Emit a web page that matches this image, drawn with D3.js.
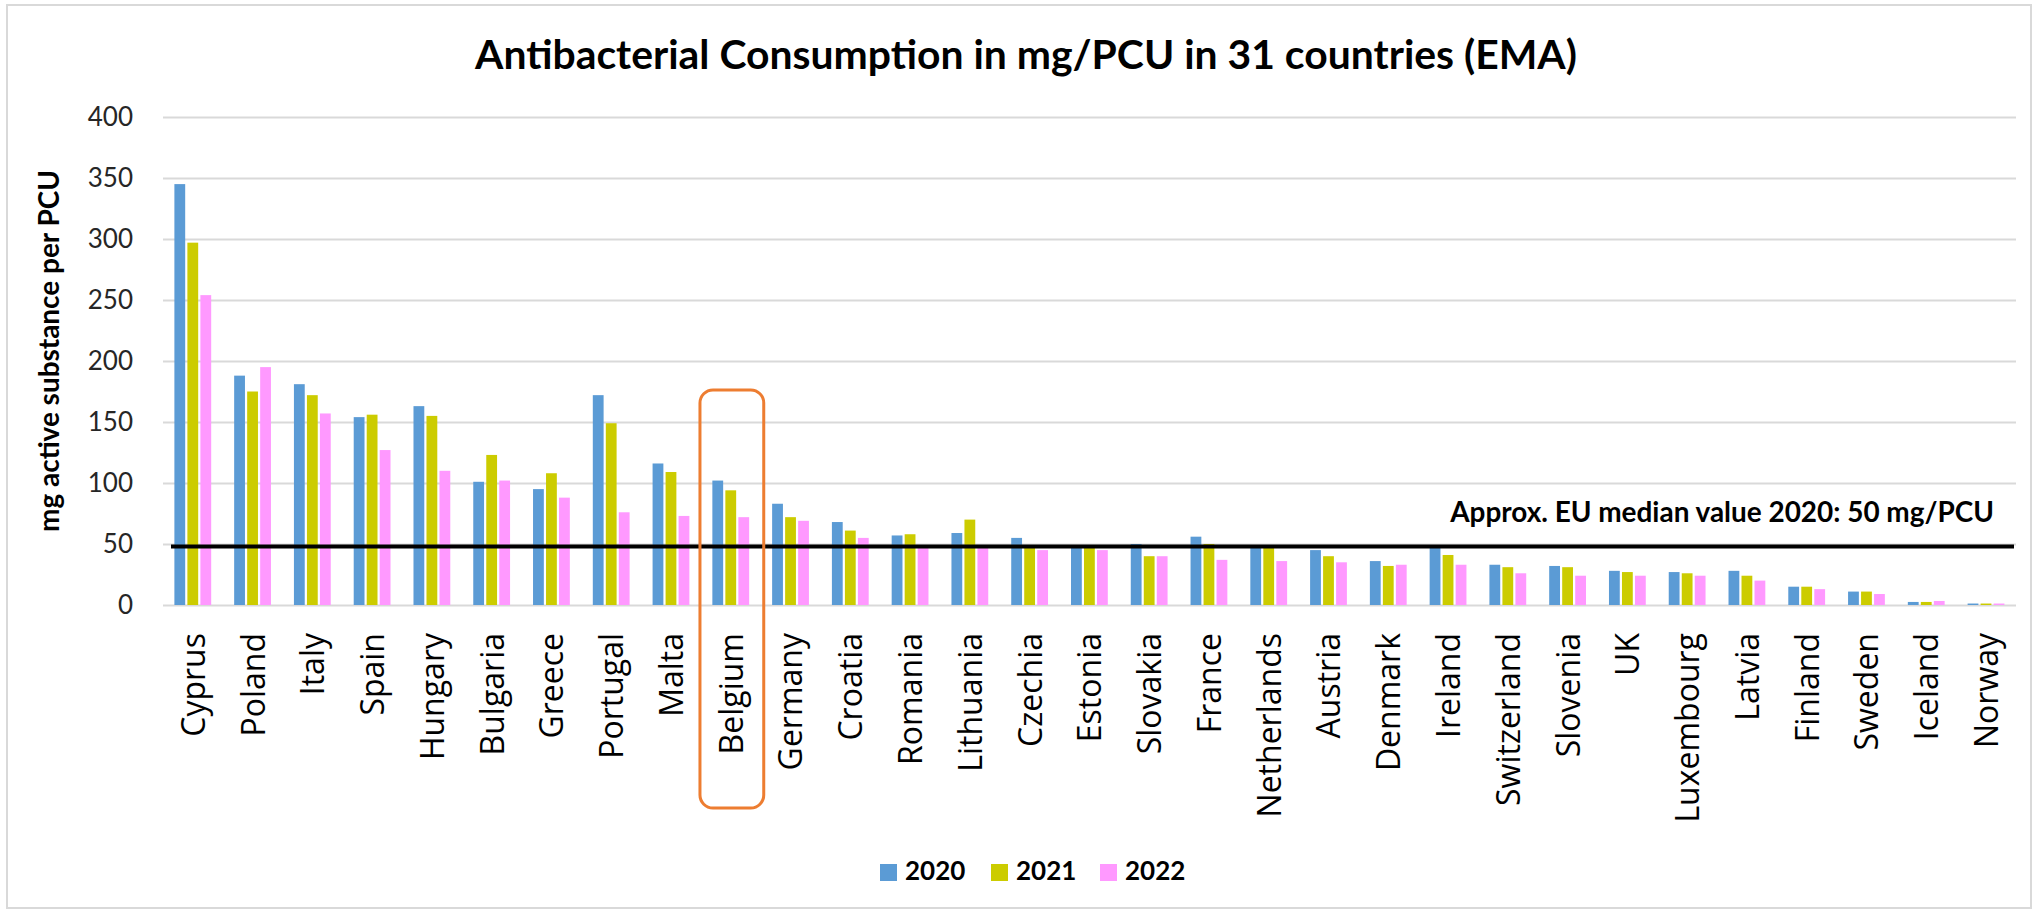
<!DOCTYPE html>
<html>
<head>
<meta charset="utf-8">
<script src="https://cdn.jsdelivr.net/npm/d3@7"></script>
<style>
  html, body { margin: 0; padding: 0; background: #fff; }
  svg { display: block; }
</style>
</head>
<body>
<svg id="chart" width="2038" height="914"></svg>
<script>
// ---------- data ----------
const countries = ["Cyprus","Poland","Italy","Spain","Hungary","Bulgaria","Greece","Portugal","Malta","Belgium",
  "Germany","Croatia","Romania","Lithuania","Czechia","Estonia","Slovakia","France","Netherlands","Austria",
  "Denmark","Ireland","Switzerland","Slovenia","UK","Luxembourg","Latvia","Finland","Sweden","Iceland","Norway"];
const v2020 = [345,188,181,154,163,101,95,172,116,102, 83,68,57,59,55,48,50,56,48,45, 36,47,33,32,28,27,28,15,11,2.5,1.2];
const v2021 = [297,175,172,156,155,123,108,149,109,94, 72,61,58,70,47,47,40,50,47,40, 32,41,31,31,27,26,24,15,11,2.5,1.2];
const v2022 = [254,195,157,127,110,102,88,76,73,72, 69,55,47,47,45,45,40,37,36,35, 33,33,26,24,24,24,20,13,9,3.3,1.2];
const years = ["2020","2021","2022"];
const yearColors = ["#5B9BD5","#CCCC00","#FF99FF"];
const yTicks = [0,50,100,150,200,250,300,350,400];
const medianValue = 48;
const medianLabel = "Approx. EU median value 2020: 50 mg/PCU";
const highlightCountry = "Belgium";
const titleText = "Antibacterial Consumption in mg/PCU in 31 countries (EMA)";
const yTitleText = "mg active substance per PCU";

const series = [v2020, v2021, v2022];

// ---------- layout ----------
const svg = d3.select("#chart");
const L = 163, R = 2016, T = 117, B = 605;
const calibri = "Lato, 'Open Sans', sans-serif";
const segoe = "'Open Sans', 'Noto Sans', sans-serif";

function fitWidth(sel, target) {
  const len = sel.node().getComputedTextLength();
  const fs = parseFloat(sel.attr("font-size"));
  sel.attr("font-size", (fs * target / len).toFixed(2));
}

// chart frame
svg.append("rect").attr("x", 7).attr("y", 5).attr("width", 2024).attr("height", 903)
  .attr("fill", "#fff").attr("stroke", "#d9d9d9").attr("stroke-width", 2);

// title
const title = svg.append("text").attr("x", (475 + 1577) / 2).attr("y", 69)
  .attr("text-anchor", "middle").attr("font-family", calibri).attr("font-weight", "bold")
  .attr("font-size", 39).attr("fill", "#000").text(titleText);
fitWidth(title, 1102);

// scales
const y = d3.scaleLinear().domain([0, 400]).range([B, T]);
const x0 = d3.scaleBand().domain(countries).range([L, R]).padding(0);
const groupW = 39;
const x1 = d3.scaleBand().domain(years).range([0, groupW]);
const groupOff = (x0.bandwidth() - groupW) / 2;

// y axis + gridlines
const yAxis = svg.append("g").attr("transform", `translate(${L},0)`)
  .call(d3.axisLeft(y).tickValues(yTicks).tickSize(-(R - L)).tickPadding(30));
yAxis.select(".domain").remove();
yAxis.selectAll(".tick line").attr("stroke", "#d9d9d9").attr("stroke-width", 2);
yAxis.selectAll(".tick text").attr("font-family", calibri).attr("font-size", 26)
  .attr("fill", "#262626").attr("dy", "0.34em");

// y title
const yTitle = svg.append("text").attr("transform", `translate(59,351) rotate(-90)`)
  .attr("text-anchor", "middle").attr("font-family", calibri).attr("font-weight", "bold")
  .attr("font-size", 24).attr("fill", "#000").text(yTitleText);
fitWidth(yTitle, 362);

// bars
const rows = countries.map((c, i) => ({ c, vals: years.map((yr, k) => ({ yr, k, v: series[k][i] })) }));
const groups = svg.append("g").selectAll("g").data(rows).join("g")
  .attr("transform", d => `translate(${x0(d.c) + groupOff},0)`);
groups.selectAll("rect").data(d => d.vals).join("rect")
  .attr("x", d => x1(d.yr) + 1)
  .attr("width", x1.bandwidth() - 2.2)
  .attr("y", d => y(d.v))
  .attr("height", d => y(0) - y(d.v))
  .attr("fill", d => yearColors[d.k]);

// x axis labels
const xAxis = svg.append("g").attr("transform", `translate(0,${B})`)
  .call(d3.axisBottom(x0).tickSize(0));
xAxis.select(".domain").remove();
xAxis.selectAll(".tick text")
  .attr("font-family", segoe).attr("font-size", 32).attr("fill", "#000")
  .attr("transform", "rotate(-90)").attr("text-anchor", "end")
  .attr("x", -28).attr("y", 0).attr("dy", "0.37em");

// median line
svg.append("line").attr("x1", 171).attr("x2", 2014)
  .attr("y1", y(medianValue)).attr("y2", y(medianValue))
  .attr("stroke", "#000").attr("stroke-width", 4);
const medText = svg.append("text").attr("x", 1994).attr("y", 522)
  .attr("text-anchor", "end").attr("font-family", calibri).attr("font-weight", "bold")
  .attr("font-size", 25).attr("fill", "#000").text(medianLabel);
fitWidth(medText, 544);

// highlight box
svg.append("rect")
  .attr("x", x0(highlightCountry) - 1).attr("y", 390)
  .attr("width", x0.bandwidth() + 4).attr("height", 418)
  .attr("rx", 13).attr("ry", 13)
  .attr("fill", "none").attr("stroke", "#ED7D31").attr("stroke-width", 3);

// legend
const legendX = [880, 991, 1100];
const lg = svg.append("g").selectAll("g").data(years).join("g")
  .attr("transform", (d, i) => `translate(${legendX[i]},864)`);
lg.append("rect").attr("width", 17).attr("height", 17).attr("fill", (d, i) => yearColors[i]);
lg.append("text").attr("x", 25).attr("y", 16).attr("font-family", calibri).attr("font-weight", "bold")
  .attr("font-size", 26).attr("fill", "#000").text(d => d);
</script>
</body>
</html>
